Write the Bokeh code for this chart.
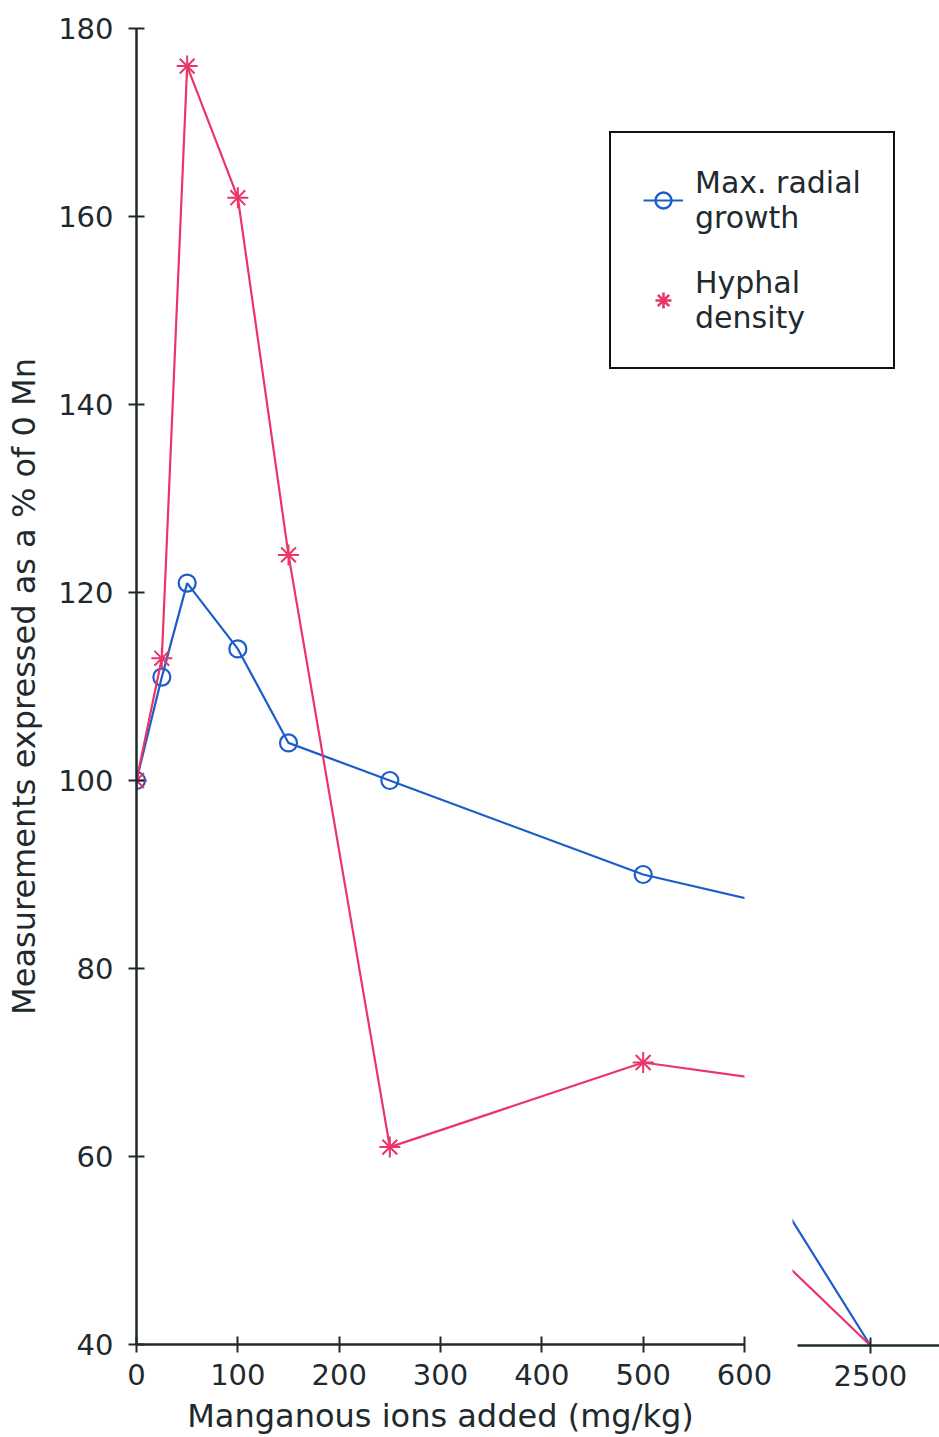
from bokeh.plotting import figure
from bokeh.models import FixedTicker, Legend, LegendItem, Range1d
from bokeh.embed import file_html
from bokeh.resources import INLINE

# Manganous ions added (mg/kg) and responses as % of the 0 Mn control
mn_added = [0, 25, 50, 100, 150, 250, 500, 2500]
radial_growth = [100, 111, 121, 114, 104, 100, 90, 40]
hyphal_density = [100, 113, 176, 162, 124, 61, 70, 40]

y_ticks = [40, 60, 80, 100, 120, 140, 160, 180]
x_ticks_low = [0, 100, 200, 300, 400, 500, 600]
x_ticks_high = [2500]

BLUE = "#1d5ccb"
PINK = "#ea3569"
INK = "#1f2a2e"
FONT = "DejaVu Sans"

W, H = 939, 1437
TOP, BOTTOM = 28, 92
LEFT = 136


def style_axis(ax):
    ax.axis_line_color = INK
    ax.axis_line_width = 2.5
    ax.major_tick_line_color = INK
    ax.major_tick_line_width = 2
    ax.major_tick_in = 8
    ax.major_tick_out = 8
    ax.minor_tick_line_color = None
    ax.major_label_text_font = FONT
    ax.major_label_text_font_size = "29px"
    ax.major_label_text_color = INK
    ax.axis_label_text_font = FONT
    ax.axis_label_text_font_size = "32px"
    ax.axis_label_text_font_style = "normal"
    ax.axis_label_text_color = INK


def bare(fig):
    fig.background_fill_color = None
    fig.border_fill_color = None
    fig.outline_line_color = None
    fig.xgrid.visible = False
    fig.ygrid.visible = False
    fig.styles = {"position": "absolute", "left": "0px", "top": "0px"}


# Main panel: 0-600 mg/kg
p = figure(width=W, height=H, output_backend="svg", toolbar_location=None,
           x_range=Range1d(0, 600), y_range=Range1d(40, 180),
           min_border_left=LEFT, min_border_right=W - LEFT - 608,
           min_border_top=TOP, min_border_bottom=BOTTOM)
p.outline_line_color = None
p.xgrid.visible = False
p.ygrid.visible = False

for ax in (p.xaxis[0], p.yaxis[0]):
    style_axis(ax)
p.xaxis.ticker = FixedTicker(ticks=x_ticks_low)
p.xaxis.bounds = (0, 600)
p.xaxis.major_label_standoff = 11
p.xaxis.axis_label = "Manganous ions added (mg/kg)"
p.xaxis.axis_label_standoff = 9
p.yaxis.ticker = FixedTicker(ticks=y_ticks)
p.yaxis.bounds = (40, 180)
p.yaxis.major_label_standoff = 15
p.yaxis.axis_label = "Measurements expressed as a % of 0 Mn"
p.yaxis.axis_label_standoff = 12

p.line(mn_added, radial_growth, line_color=BLUE, line_width=2.2)
p.scatter(mn_added, radial_growth, marker="circle", size=17,
          fill_color=None, line_color=BLUE, line_width=2.2)
p.line(mn_added, hyphal_density, line_color=PINK, line_width=2.2)
p.scatter(mn_added, hyphal_density, marker="asterisk", size=21,
          line_color=PINK, line_width=2)

# Broken-axis panel around 2500 mg/kg, laid over the main panel
q = figure(width=W, height=H, output_backend="svg", toolbar_location=None,
           x_range=Range1d(1970, 2970), y_range=Range1d(40, 180),
           y_axis_location=None,
           min_border_left=792, min_border_right=0,
           min_border_top=TOP, min_border_bottom=BOTTOM)
bare(q)
style_axis(q.xaxis[0])
q.xaxis.ticker = FixedTicker(ticks=x_ticks_high)
q.xaxis.bounds = (2003, 2970)
q.xaxis.major_label_standoff = 11

q.line(mn_added, radial_growth, line_color=BLUE, line_width=2.2)
q.line(mn_added, hyphal_density, line_color=PINK, line_width=2.2)

# Key panel spanning both axes; its series sit outside its own view
k = figure(width=W, height=H, output_backend="svg", toolbar_location=None,
           x_range=Range1d(-2, -1), y_range=Range1d(-2, -1),
           x_axis_location=None, y_axis_location=None, min_border=0)
bare(k)
kl = k.line(mn_added, radial_growth, line_color=BLUE, line_width=2.2)
ks = k.scatter(mn_added, radial_growth, marker="circle", size=17,
               fill_color=None, line_color=BLUE, line_width=2.4)
ka = k.scatter(mn_added, hyphal_density, marker="asterisk", size=21,
               line_color=PINK, line_width=2.6)

legend = Legend(
    items=[LegendItem(label="Max. radial\ngrowth", renderers=[kl, ks]),
           LegendItem(label="Hyphal\ndensity", renderers=[ka])],
    location=(609, H - 369),
    border_line_color="#111111", border_line_width=2.5, border_line_alpha=1.0,
    background_fill_color="white", background_fill_alpha=1.0,
    padding=32, spacing=30, margin=0,
    label_standoff=12, glyph_width=40, glyph_height=46,
    label_text_font=FONT, label_text_font_size="30px",
    label_text_line_height=1.05,
    label_text_color=INK,
)
k.add_layout(legend)

open("out.html", "w").write(file_html([p, q, k], INLINE))
